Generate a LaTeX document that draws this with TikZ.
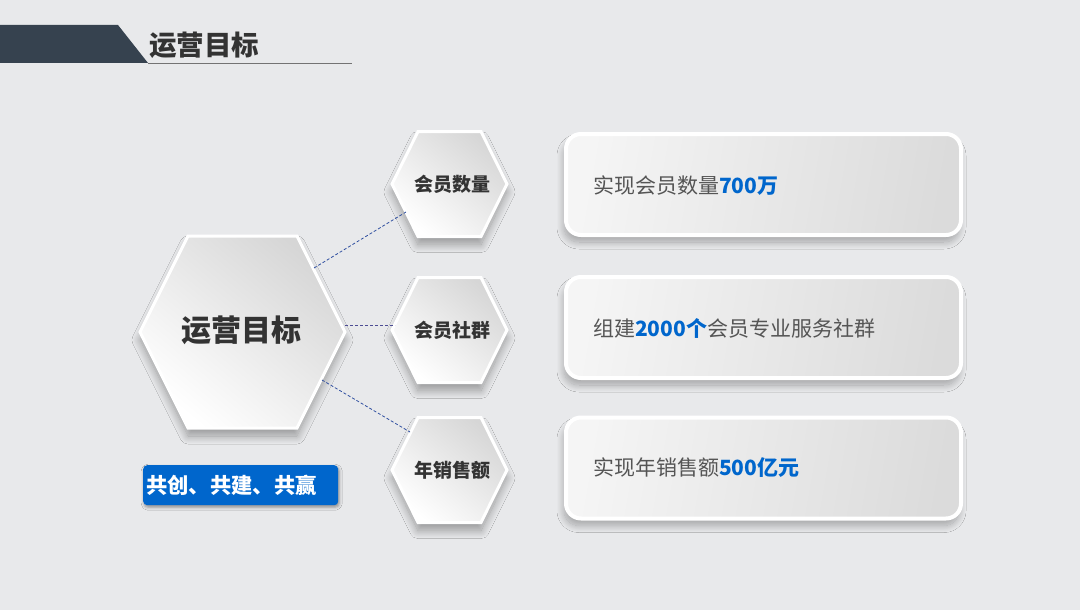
\documentclass[tikz,border=0pt]{standalone}
\usepackage{fontspec}
\setmainfont{Noto Sans CJK SC}
\usetikzlibrary{shadows.blur}
\definecolor{bg}{HTML}{E8E9EB}
\definecolor{hdr}{HTML}{36424F}
\definecolor{txt}{HTML}{333333}
\definecolor{boxtxt}{HTML}{555555}
\definecolor{blu}{HTML}{0066CC}
\definecolor{dashblue}{HTML}{2F4FA0}
\newcommand\hexagonpath[5]{(#1-#3,#2) -- (#1-#4,#2-#5) -- (#1+#4,#2-#5) -- (#1+#3,#2) -- (#1+#4,#2+#5) -- (#1-#4,#2+#5) -- cycle}
\tikzset{
  hexfill/.style={top color=black!16, bottom color=white, shading angle=-40,
    blur shadow={shadow xshift=0pt, shadow yshift=-8pt, shadow blur radius=8pt, shadow blur steps=20, shadow opacity=35}},
  hexedge/.style={draw=white, line width=3pt},
  hextext/.style={font=\bfseries\fontsize{19}{19}\selectfont, text=txt},
  goalbox/.style={rectangle, rounded corners=15pt, minimum width=395pt, minimum height=101pt,
    draw=white, line width=4pt, left color=black!4, right color=black!14, shading angle=80,
    blur shadow={shadow xshift=-2pt, shadow yshift=-7pt, shadow blur radius=7pt, shadow blur steps=20, shadow opacity=30}},
  goaltext/.style={anchor=west, font=\fontsize{21}{21}\selectfont, text=boxtxt, inner sep=0pt},
  link/.style={dashed, dash pattern=on 3pt off 2pt, line width=0.8pt, draw=dashblue},
}
\newcommand\hl[1]{{\color{blu}\bfseries #1}}
\begin{document}
\begin{tikzpicture}[x=1pt,y=-1pt]
\useasboundingbox (0,0) rectangle (1080,610);
\fill[bg] (0,0) rectangle (1080,610);
% header
\fill[hdr] (0,25) -- (118,25) -- (148,63) -- (0,63) -- cycle;
\draw[black!55, line width=0.8pt] (148,63) -- (352,63);
\node[anchor=west, font=\bfseries\fontsize{27.5}{27.5}\selectfont, text=txt, inner sep=0pt] (title) at (149,45) {运营目标};

% big hexagon
\shade[hexfill] \hexagonpath{242.5}{332}{102.5}{54.5}{96};
\draw[hexedge] \hexagonpath{242.5}{332}{102.5}{54.5}{96};
\node[font=\bfseries\fontsize{30}{30}\selectfont, text=txt] (core) at (241,330) {运营目标};

% small hexagons
\foreach \cy/\nm/\lab in {184/h1/会员数量, 330/h2/会员社群, 470/h3/年销售额}{
  \shade[hexfill] \hexagonpath{449.5}{\cy}{57.5}{31.5}{52.5};
  \draw[hexedge] \hexagonpath{449.5}{\cy}{57.5}{31.5}{52.5};
  \node[hextext] (\nm) at (452,\cy) {\lab};
}

% connectors
\coordinate (c1s) at (314,268);
\coordinate (c1e) at (406,212);
\coordinate (c2s) at (345,325);
\coordinate (c2e) at (395,325);
\coordinate (c3s) at (322,380);
\coordinate (c3e) at (410,432);
\draw[link] (c1s) -- (c1e);
\draw[link, draw=black!60!blue!70] (c2s) -- (c2e);
\draw[link] (c3s) -- (c3e);

% slogan
\node[anchor=north west, fill=blu, rounded corners=4pt, minimum width=195pt, minimum height=40pt,
  text width=189pt, inner xsep=3pt, align=left, text=white, font=\bfseries\fontsize{21.3}{21.3}\selectfont,
  blur shadow={shadow xshift=1pt, shadow yshift=-2pt, shadow blur radius=3pt, shadow opacity=40}] (slogan) at (143,465) {共创、共建、共赢};

% goal boxes
\node[goalbox] (b1) at (763.5,184.5) {};
\node[goalbox] (b2) at (763.5,327.5) {};
\node[goalbox] (b3) at (763.5,468) {};
\node[goaltext] (t1) at (593,186) {实现会员数量\hl{700万}};
\node[goaltext] (t2) at (593,328) {组建\hl{2000个}会员专业服务社群};
\node[goaltext] (t3) at (593,468) {实现年销售额\hl{500亿元}};
\end{tikzpicture}
\end{document}
